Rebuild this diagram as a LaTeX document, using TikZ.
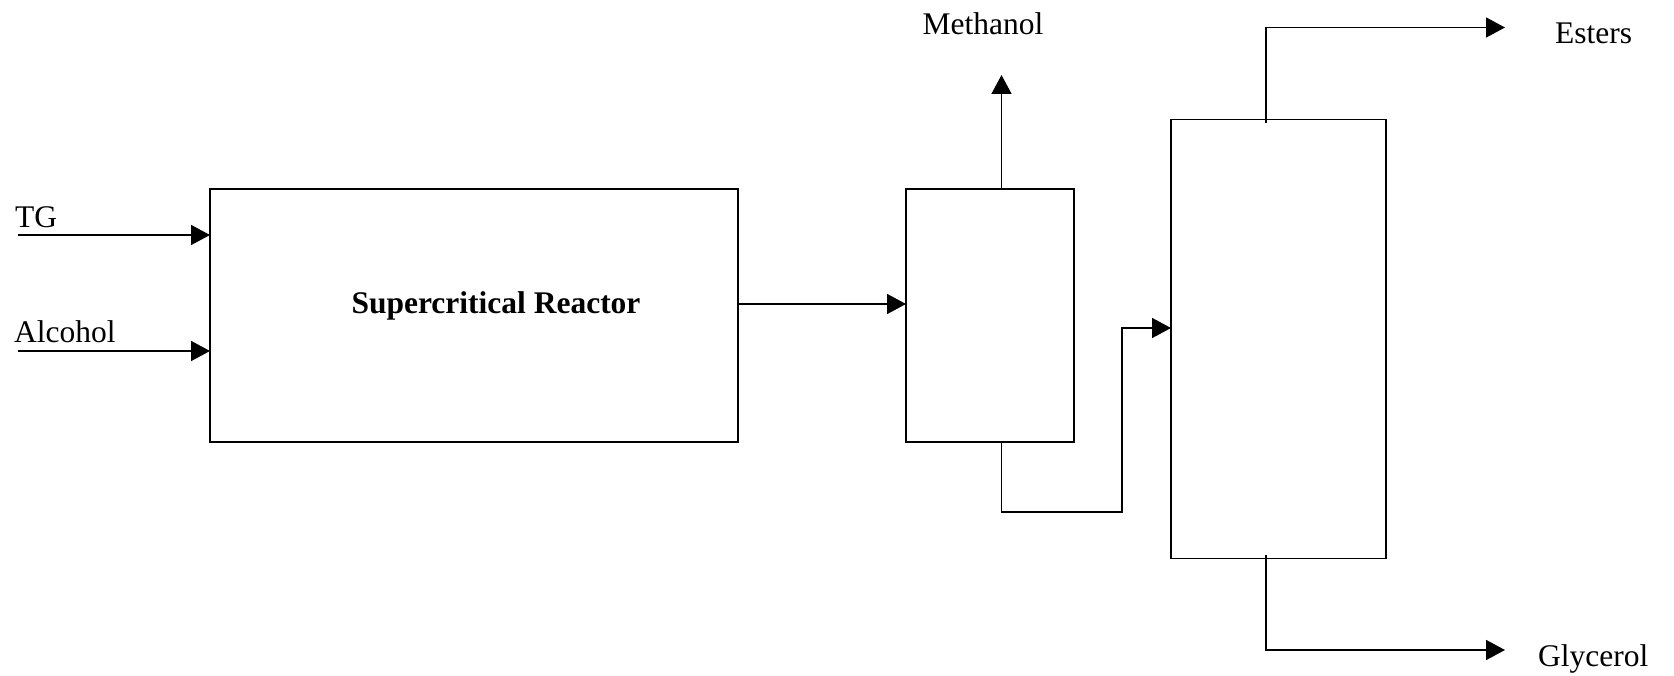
\documentclass[tikz,border=0pt]{standalone}
\usepackage{fontspec}
\setmainfont{Liberation Serif}
\usetikzlibrary{arrows.meta,calc}
\begin{document}
\begin{tikzpicture}[x=1pt,y=-1pt,
  unitbox/.style={draw=black,line width=1.6pt,rectangle,inner sep=0pt,outer sep=0pt},
  flow/.style={line width=1.6pt,-{Triangle[length=19pt,width=20pt]}},
  pipe/.style={line width=1.6pt},
  lbl/.style={inner sep=0pt,font=\fontsize{31.5}{36}\selectfont}]
\useasboundingbox (0,0) rectangle (1674,676);
% units
\node[unitbox,minimum width=528pt,minimum height=253pt] (R) at (474,315.5) {};
\node[unitbox,minimum width=168pt,minimum height=253pt] (B2) at (990,315.5) {};
\node[unitbox,minimum width=215pt,minimum height=439pt] (B3) at (1278.5,339) {};
\node[lbl,font=\fontsize{31.5}{36}\selectfont\bfseries,anchor=base] (RT) at (496,314) {Supercritical Reactor};
% labels
\node[lbl,anchor=base west] (TG) at (15,228) {TG};
\node[lbl,anchor=base west] (AL) at (14,343) {Alcohol};
\node[lbl,anchor=base] (ME) at (983,34.5) {Methanol};
\node[lbl,anchor=base west] (ES) at (1555,44) {Esters};
\node[lbl,anchor=base west] (GL) at (1538,666) {Glycerol};
% coordinates
\coordinate (tgs) at (18,235);
\coordinate (als) at (18,351);
\coordinate (rout) at (R.east |- 0,304);
\coordinate (mtop) at (1001.5,75);
\coordinate (mbot) at (1001.5,512);
\coordinate (mcor) at (1122,512);
\coordinate (mup) at (1122,328);
\coordinate (etop) at (1266,27.5);
\coordinate (eend) at (1505,27.5);
\coordinate (estart) at (1266,123);
\coordinate (gstart) at (1266,555);
\coordinate (gbot) at (1266,650);
\coordinate (gend) at (1505,650);
% connectors
\draw[flow] (tgs) -- (tgs -| R.west);
\draw[flow] (als) -- (als -| R.west);
\draw[flow] (rout) -- (rout -| B2.west);
\draw[flow] (mtop |- B2.north) -- (mtop);
\draw[flow] (mbot |- B2.south) -- (mbot) -- (mcor) -- (mup) -- (mup -| B3.west);
\draw[flow] (estart) -- (etop) -- (eend);
\draw[flow] (gstart) -- (gbot) -- (gend);
\end{tikzpicture}
\end{document}
